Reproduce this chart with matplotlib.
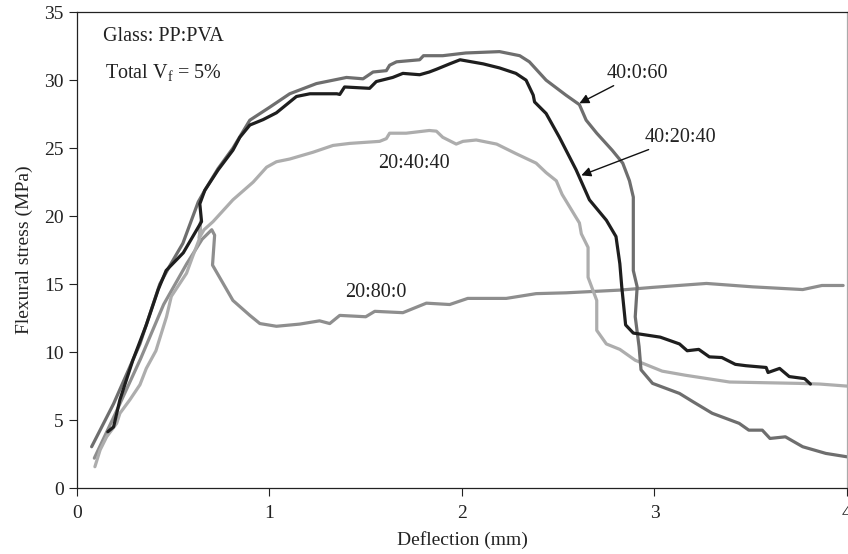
import matplotlib
matplotlib.use('Agg')
import matplotlib.pyplot as plt

plt.rcParams['font.family'] = ['Liberation Serif', 'DejaVu Serif']
plt.rcParams['mathtext.fontset'] = 'custom'
plt.rcParams['mathtext.rm'] = 'Liberation Serif'

# Flexural stress vs deflection curves, Glass:PP:PVA blends
x_40_20_40 = [0.16, 0.19, 0.223, 0.29, 0.36, 0.422, 0.463, 0.552, 0.647, 0.638, 0.664, 0.733, 0.81,
              0.846, 0.898, 0.967, 1.036, 1.14, 1.21, 1.35, 1.365, 1.39, 1.52, 1.555, 1.64, 1.693,
              1.78, 1.83, 1.867, 1.936, 1.99, 2.11, 2.195, 2.28, 2.333, 2.37, 2.377, 2.437, 2.506,
              2.593, 2.662, 2.75, 2.80, 2.82, 2.83, 2.85, 2.89, 3.03, 3.13, 3.17, 3.23, 3.285, 3.35,
              3.42, 3.475, 3.58, 3.59, 3.65, 3.70, 3.78, 3.81]
y_40_20_40 = [4.14, 4.5, 6.5, 9.4, 12.0, 14.6, 16.0, 17.3, 19.6, 20.9, 21.9, 23.4, 24.85,
              25.8, 26.7, 27.1, 27.6, 28.8, 29.0, 29.0, 28.95, 29.5, 29.4, 29.9, 30.2, 30.5,
              30.4, 30.6, 30.8, 31.2, 31.5, 31.2, 30.9, 30.5, 30.0, 28.9, 28.4, 27.55, 25.8,
              23.4, 21.2, 19.7, 18.5, 16.5, 14.8, 12.0, 11.4, 11.1, 10.6, 10.1, 10.2, 9.65, 9.6,
              9.1, 9.0, 8.87, 8.5, 8.8, 8.2, 8.05, 7.65]

x_40_0_60 = [0.076, 0.19, 0.327, 0.43, 0.48, 0.55, 0.63, 0.664, 0.733, 0.81, 0.898, 1.0, 1.105,
             1.244, 1.40, 1.486, 1.538, 1.607, 1.624, 1.66, 1.78, 1.80, 1.90, 2.02, 2.195, 2.30,
             2.35, 2.437, 2.54, 2.61, 2.645, 2.70, 2.78, 2.835, 2.87, 2.89, 2.89, 2.89, 2.91, 2.90,
             2.92, 2.93, 2.99, 3.13, 3.2, 3.30, 3.44, 3.49, 3.56, 3.60, 3.68, 3.77, 3.89, 4.0]
y_40_0_60 = [3.04, 6.2, 10.6, 15.0, 16.3, 18.0, 21.05, 21.9, 23.5, 25.0, 27.06, 28.0, 29.0,
             29.75, 30.2, 30.1, 30.6, 30.7, 31.1, 31.35, 31.5, 31.8, 31.8, 32.0, 32.1, 31.8,
             31.35, 30.0, 28.9, 28.2, 27.06, 26.1, 24.85, 23.9, 22.6, 21.4, 18.0, 16.0, 14.8, 12.6,
             10.4, 8.7, 7.7, 6.96, 6.35, 5.5, 4.76, 4.26, 4.26, 3.65, 3.77, 3.04, 2.55, 2.3]

x_20_40_40 = [0.093, 0.12, 0.154, 0.206, 0.223, 0.275, 0.327, 0.36, 0.41, 0.465, 0.49, 0.569,
              0.60, 0.635, 0.642, 0.635, 0.66, 0.707, 0.81, 0.915, 0.985, 1.036, 1.105, 1.226,
              1.33, 1.417, 1.572, 1.607, 1.624, 1.71, 1.83, 1.867, 1.90, 1.97, 2.005, 2.074,
              2.18, 2.28, 2.385, 2.437, 2.49, 2.52, 2.61, 2.62, 2.655, 2.655, 2.70, 2.70, 2.75,
              2.82, 2.90, 3.04, 3.16, 3.39, 3.75, 3.86, 4.0]
y_20_40_40 = [1.57, 2.8, 3.77, 4.76, 5.5, 6.5, 7.6, 8.8, 10.1, 12.6, 14.1, 15.8,
              17.0, 18.3, 19.6, 18.4, 19.0, 19.6, 21.2, 22.5, 23.6, 24.0, 24.2, 24.7,
              25.2, 25.35, 25.5, 25.7, 26.1, 26.1, 26.3, 26.25, 25.8, 25.3, 25.5, 25.6,
              25.3, 24.6, 23.9, 23.2, 22.6, 21.6, 19.5, 18.7, 17.7, 15.5, 13.8, 11.6, 10.6,
              10.2, 9.4, 8.6, 8.3, 7.8, 7.7, 7.65, 7.5]

x_20_80_0 = [0.09, 0.2, 0.33, 0.45, 0.57, 0.65, 0.70, 0.715, 0.704, 0.81, 0.898, 0.95, 1.036,
             1.157, 1.26, 1.313, 1.365, 1.50, 1.547, 1.693, 1.815, 1.936, 2.03, 2.23, 2.385,
             2.54, 2.82, 2.99, 3.27, 3.51, 3.77, 3.87, 3.98]
y_20_80_0 = [2.2, 5.5, 9.5, 13.5, 16.5, 18.3, 19.0, 18.6, 16.4, 13.8, 12.7, 12.1, 11.9,
             12.06, 12.3, 12.1, 12.7, 12.6, 13.0, 12.9, 13.6, 13.5, 13.95, 13.95, 14.3,
             14.36, 14.56, 14.76, 15.05, 14.8, 14.6, 14.9, 14.9]

fig = plt.figure(figsize=(8.48, 5.54), dpi=100)
ax = fig.add_axes([0.0908, 0.119, 0.9080, 0.859])

lw = 2.3
style = dict(lw=lw, solid_joinstyle='round', solid_capstyle='round')
ax.plot(x_20_80_0, y_20_80_0, color='#8e8e8e', **style)
ax.plot(x_20_40_40, y_20_40_40, color='#adadad', **style)
ax.plot(x_40_0_60, y_40_0_60, color='#6e6e6e', **style)
ax.plot(x_40_20_40, y_40_20_40, color='#1e1e1e', **style)

ax.set_xlim(0, 4)
ax.set_ylim(0, 35)
ax.set_xticks([0, 1, 2, 3, 4])
ax.set_yticks(range(0, 36, 5))
ax.tick_params(direction='out', length=5.5, width=0.8, labelsize=14, colors='#222222')
ax.tick_params(axis='x', pad=7)
ax.tick_params(axis='y', pad=4)
for s in ax.spines.values():
    s.set_linewidth(0.9)
    s.set_color('#222222')
ax.spines['right'].set_color('#aaaaaa')

ax.set_xlabel('Deflection (mm)', fontsize=14, color='#222222', labelpad=6)
ax.set_ylabel('Flexural stress (MPa)', fontsize=14, color='#222222', labelpad=8)

fs = 14.5
ax.text(0.135, 33.2, 'Glass: PP:PVA', fontsize=fs, va='center', ha='left', color='#222222')
ax.text(0.145, 30.5, r'Total V$_\mathrm{f}$ = 5%', fontsize=fs, va='center', ha='left', color='#222222')
ax.text(1.75, 23.9, '20:40:40', fontsize=fs, va='center', ha='center', color='#222222')
ax.text(1.55, 14.4, '20:80:0', fontsize=fs, va='center', ha='center', color='#222222')

arrow = dict(arrowstyle='-|>', color='#111111', lw=1.0, mutation_scale=14, shrinkA=0, shrinkB=0)
ax.annotate('40:0:60', xy=(2.61, 28.3), xytext=(2.752, 29.8), fontsize=fs,
            ha='left', va='bottom', color='#222222', arrowprops=arrow)
ax.annotate('40:20:40', xy=(2.62, 23.0), xytext=(2.95, 25.1), fontsize=fs,
            ha='left', va='bottom', color='#222222', arrowprops=arrow)

fig.savefig('out.png', dpi=100)
